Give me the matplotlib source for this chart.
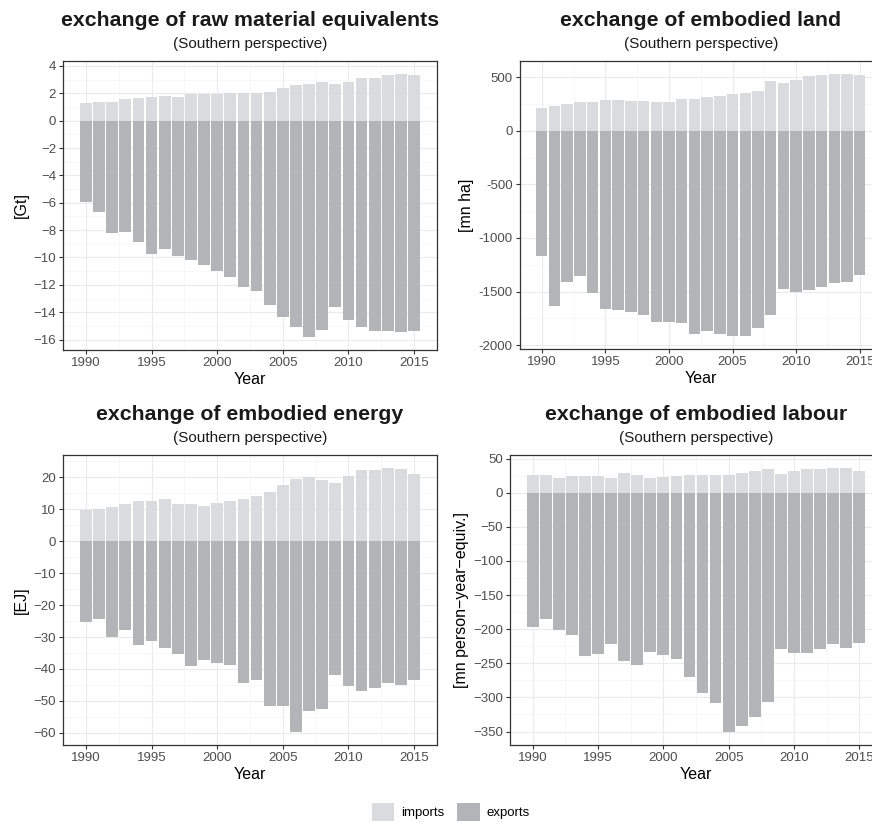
import matplotlib.pyplot as plt
import numpy as np
from matplotlib.patches import Patch
from matplotlib.ticker import FuncFormatter, MultipleLocator

plt.rcParams['font.family'] = ['Liberation Sans', 'DejaVu Sans']

years = np.arange(1990, 2016)

rme_imports = [1.3, 1.35, 1.4, 1.6, 1.65, 1.7, 1.8, 1.75, 1.95, 1.95, 1.95, 2.0, 2.0,
               2.0, 2.1, 2.4, 2.6, 2.7, 2.8, 2.65, 2.8, 3.1, 3.1, 3.35, 3.4, 3.35]
rme_exports = [-5.95, -6.7, -8.2, -8.15, -8.85, -9.75, -9.35, -9.9, -10.2, -10.55, -11.0,
               -11.45, -12.15, -12.45, -13.45, -14.35, -15.1, -15.8, -15.3, -13.6, -14.6,
               -15.05, -15.35, -15.35, -15.45, -15.35]

land_imports = [211, 233, 248, 273, 273, 288, 288, 282, 279, 270, 273, 298, 300, 313, 326,
                341, 350, 369, 465, 450, 475, 512, 518, 530, 530, 521]
land_exports = [-1169, -1635, -1408, -1355, -1517, -1666, -1672, -1687, -1721, -1783, -1783,
                -1796, -1892, -1867, -1892, -1914, -1914, -1836, -1721, -1473, -1501, -1486,
                -1455, -1417, -1411, -1349]

energy_imports = [9.9, 10.1, 10.7, 11.8, 12.5, 12.5, 13.4, 11.8, 11.8, 11.2, 12.0, 12.5, 13.2,
                  14.3, 15.4, 17.5, 19.6, 20.1, 19.3, 18.3, 20.3, 22.2, 22.2, 22.9, 22.7, 21.1]
energy_exports = [-25.3, -24.2, -29.9, -27.8, -32.5, -31.3, -33.5, -35.3, -39.1, -37.3, -38.1,
                  -38.7, -44.5, -43.5, -51.6, -51.6, -59.7, -53.1, -52.4, -42.0, -45.2, -47.0,
                  -46.0, -44.3, -45.0, -43.6]

labour_imports = [25.8, 25.8, 21, 24, 24, 24, 22, 29, 26, 21, 23, 24, 26, 26, 26, 26, 29, 32,
                  34.5, 27, 32, 34.5, 35.5, 36, 36, 32.6]
labour_exports = [-196.6, -184.4, -200.5, -209, -239.4, -237, -221, -246.7, -252.6, -233,
                  -238.4, -244.3, -270, -294, -308.5, -350.4, -342.6, -329.4, -306.6, -229.7,
                  -235.5, -234.5, -229.7, -222.4, -227.3, -220]

panels = [
    ("exchange of raw material equivalents", "[Gt]", rme_imports, rme_exports, 2, "\u2212"),
    ("exchange of embodied land", "[mn ha]", land_imports, land_exports, 500, "-"),
    ("exchange of embodied energy", "[EJ]", energy_imports, energy_exports, 10, "\u2212"),
    ("exchange of embodied labour", "[mn person\u2212year\u2212equiv.]", labour_imports,
     labour_exports, 50, "\u2212"),
]

imp_color = "#dadbde"
exp_color = "#b3b4b8"

W, H = 872, 823
# axes boxes in pixels: left, top, right, bottom
# (right column runs past the figure edge, as in the original)
boxes = [(63, 61, 437, 350), (519.5, 61, 882, 349),
         (63, 455, 437, 745), (510, 455, 882, 745)]

fig = plt.figure(figsize=(W / 100, H / 100), dpi=100)

for (title, ylab, imp, exp, step, minus), (l, t, r, b) in zip(panels, boxes):
    ax = fig.add_axes([l / W, 1 - b / H, (r - l) / W, (b - t) / H])
    ax.bar(years, imp, width=0.9, color=imp_color, zorder=2)
    ax.bar(years, exp, width=0.9, color=exp_color, zorder=2)

    lo, hi = min(exp), max(imp)
    pad = 0.05 * (hi - lo)
    ax.set_ylim(lo - pad, hi + pad)
    ax.set_xlim(1988.25, 2016.75)

    ax.xaxis.set_major_locator(MultipleLocator(5))
    ax.xaxis.set_minor_locator(MultipleLocator(2.5))
    ax.yaxis.set_major_locator(MultipleLocator(step))
    ax.yaxis.set_minor_locator(MultipleLocator(step / 2))
    ax.yaxis.set_major_formatter(FuncFormatter(
        lambda v, p, m=minus: (m + f"{abs(v):g}") if v < 0 else f"{v:g}"))

    ax.grid(which="major", color="#ebebeb", linewidth=0.8, zorder=0)
    ax.grid(which="minor", color="#f4f4f4", linewidth=0.5, zorder=0)
    ax.set_axisbelow(True)
    for s in ax.spines.values():
        s.set_color("#333333")
        s.set_linewidth(0.9)
    ax.tick_params(which="major", length=3, width=0.8, color="#333333",
                   labelsize=9.5, labelcolor="#4d4d4d", pad=2)
    ax.tick_params(which="minor", length=0)

    ax.set_xlabel("Year", fontsize=11.5, labelpad=2.5)
    ax.set_ylabel(ylab, fontsize=11.5, labelpad=3)

    cx = (l + r) / 2 / W
    fig.text(cx, 1 - (t - 41) / H, title, ha="center", va="center",
             fontsize=15.3, fontweight="bold", color="#1a1a1a")
    fig.text(cx, 1 - (t - 17) / H, "(Southern perspective)", ha="center",
             va="center", fontsize=11, color="#1a1a1a")

handles = [Patch(facecolor=imp_color, label="imports"),
           Patch(facecolor=exp_color, label="exports")]
fig.legend(handles=handles, loc="lower center", bbox_to_anchor=(0.517, -0.012),
           ncol=2, frameon=False, fontsize=9.5, handlelength=1.7, handleheight=1.7,
           columnspacing=1.0, handletextpad=0.5)

fig.savefig("out.png", dpi=100)
